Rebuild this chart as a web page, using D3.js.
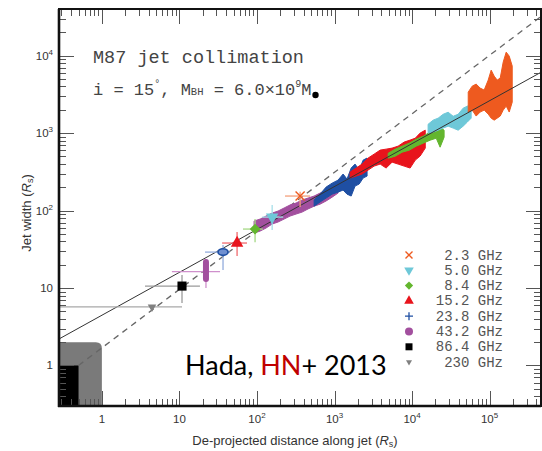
<!DOCTYPE html>
<html><head><meta charset="utf-8">
<script src="https://cdn.jsdelivr.net/npm/d3@7"></script>
<style>html,body{margin:0;padding:0;background:#fff;} svg{display:block;}</style>
</head><body>
<svg id="chart" width="542" height="451"></svg>
<script>
// ---------------- data ----------------
const xMajorTicks = [1, 10, 100, 1e3, 1e4, 1e5];
const yMajorTicks = [1, 10, 100, 1e3, 1e4];
const legendLabels = ["2.3 GHz", "5.0 GHz", "8.4 GHz", "15.2 GHz", "23.8 GHz", "43.2 GHz", "86.4 GHz", "230 GHz"];

// jet width profiles: [distance (Rs), upper width (Rs), lower width (Rs)]
const band43 = [[91.7,73.2,51.2],[110,77.7,54.4],[131,84.9,59.5],[157,92.8,67],[187,98.5,71.1],[224,108,77.7],[267,118,84.9],[319,125,90.1],[382,137,95.6],[456,145,105],[546,154,114],[651,168,121],[779,184,133],[932,201,149],[1110,207,168]];
const band23 = [[546,137,114],[651,163,129],[779,201,145],[932,226,163],[1110,247,173],[1290,296,184],[1450,255,163],[1640,354,154],[1840,398,207],[2080,333,220],[2340,448,263],[2630,476,279]];
const band15 = [[1590,314,263],[1900,354,279],[2270,398,296],[2710,476,333],[3240,535,375],[3880,603,398],[4630,621,354],[5530,640,422],[6610,679,398],[7900,765,375],[9440,812,354],[11000,860,448],[12700,1000,505],[14800,1090,640]];
const band8 = [[4920,550,475],[6050,620,503],[7450,678,567],[9180,741,602],[11300,834,678],[13900,912,741],[17100,1030,810],[20500,1090,860],[23000,1190,658],[25900,1090,885]];
const band5 = [[16100,1300,1000],[18700,1470,1030],[21700,1560,1090],[25200,1750,1160],[29200,1860,1230],[33900,1650,1160],[39300,1750,1090],[45600,2100,1230],[51300,2220,1380],[57800,2360,1560]];
const band2 = [[53000,3380,1870],[59600,4040,1980],[67100,4290,1660],[75600,3810,1870],[85100,3590,1980],[95900,4830,1760],[104800,6500,1560],[114500,5440,1470],[125200,4830,1560],[137000,5130,1660],[149700,8250,1980],[163700,11100,2230],[179000,9860,1870],[195800,7330,2510]];

// core positions with error ranges
const corePoints = [
  {band: "230",  r: 4.43, w: 5.7,  rLo: 0.2, rHi: 10.8, wLo: 5.7,  wHi: 5.7},
  {band: "86.4", r: 10.8, w: 10.6, rLo: 3.6, rHi: 18.4, wLo: 6.4,  wHi: 14.7},
  {band: "43.2", r: 22.0, w: 16.3, rLo: 8.0, rHi: 33.4, wLo: 10.0, wHi: 23.0},
  {band: "23.8", r: 36.5, w: 29.1, rLo: 21.4, rHi: 44.9, wLo: 17.1, wHi: 35.9},
  {band: "15.2", r: 55.4, w: 38.1, rLo: 35.5, rHi: 74.4, wLo: 25.9, wHi: 52.7},
  {band: "8.4",  r: 94.5, w: 57.7, rLo: 66,   rHi: 119,  wLo: 39,   wHi: 78},
  {band: "5.0",  r: 157,  w: 82.4, rLo: 117,  rHi: 218,  wLo: 56,   wHi: 118},
  {band: "2.3",  r: 360,  w: 154,  rLo: 230,  rHi: 485,  wLo: 111,  wHi: 175}
];
// elongated 43 GHz core spread
const core43Spread = [[22.0, 13.1], [22.0, 21.6]];

// power-law fits: parabolic (solid) and conical reference (dashed)
const parabolicFit = [[0.28, 2.2], [4.6e5, 6100]];
const conicalLine = [[0.5, 1.0], [4.6e5, 3.2e4]];

// ---------------- style ----------------
const colors = {
  "2.3": "#ee5a1f", "5.0": "#6ec8d8", "8.4": "#63b62e", "15.2": "#e8141c",
  "23.8": "#1f4fa3", "43.2": "#a24f9e", "86.4": "#000000", "230": "#808080"
};
const barColors = {
  "2.3": "#f3a07c", "5.0": "#a6dfe9", "8.4": "#a4d884", "15.2": "#f06a6e",
  "23.8": "#93acdd", "43.2": "#cf90cc", "86.4": "#9a9a9a", "230": "#a8a8a8"
};

const svg = d3.select("#chart");
const m = {left: 59, right: 541, top: 9, bottom: 406};
const x = d3.scaleLog().domain([0.28, 4.6e5]).range([m.left, m.right]);
const y = d3.scaleLog().domain([0.3, 4e4]).range([m.bottom, m.top]);

svg.append("defs").append("clipPath").attr("id", "plotClip")
  .append("rect").attr("x", m.left).attr("y", m.top)
  .attr("width", m.right - m.left).attr("height", m.bottom - m.top);

const plot = svg.append("g").attr("clip-path", "url(#plotClip)");

// black hole / ergosphere boxes
{
  const x0 = m.left, x1 = x(1), y0 = y(2), y1 = m.bottom, rr = 6;
  plot.append("path")
    .attr("d", `M${x0},${y1}V${y0}H${x1 - rr}Q${x1},${y0} ${x1},${y0 + rr}V${y1}Z`)
    .attr("fill", "#7a7a7a");
  plot.append("rect").attr("x", x0).attr("y", y(1))
    .attr("width", x(0.5) - x0).attr("height", y1 - y(1)).attr("fill", "#000");
}

// minor/major ticks
function decadeValues(scale) {
  const [a, b] = scale.domain();
  const out = [];
  for (let e = Math.floor(Math.log10(a)); e <= Math.ceil(Math.log10(b)); e++) {
    for (let k = 1; k <= 9; k++) {
      const v = k * Math.pow(10, e);
      if (v >= a && v <= b) out.push({v, major: k === 1});
    }
  }
  return out;
}
const tickG = svg.append("g").attr("stroke", "#555").attr("stroke-width", 1);
const majLen = 15, minLen = 7;
decadeValues(x).forEach(t => {
  const px = Math.round(x(t.v)) + 0.5, L = t.major ? majLen : minLen;
  tickG.append("line").attr("x1", px).attr("x2", px).attr("y1", m.bottom).attr("y2", m.bottom - L);
  tickG.append("line").attr("x1", px).attr("x2", px).attr("y1", m.top).attr("y2", m.top + L);
});
decadeValues(y).forEach(t => {
  const py = Math.round(y(t.v)) + 0.5, L = t.major ? majLen : minLen;
  tickG.append("line").attr("y1", py).attr("y2", py).attr("x1", m.left).attr("x2", m.left + L);
  tickG.append("line").attr("y1", py).attr("y2", py).attr("x1", m.right).attr("x2", m.right - L);
});

// reference lines
const line = d3.line().x(d => x(d[0])).y(d => y(d[1]));
plot.append("path").datum(conicalLine).attr("d", line)
  .attr("fill", "none").attr("stroke", "#666").attr("stroke-width", 1.3).attr("stroke-dasharray", "6,5");

// width profile bands
const area = d3.area().x(d => x(d[0])).y0(d => y(d[2])).y1(d => y(d[1]));
[["43.2", band43], ["23.8", band23], ["15.2", band15], ["8.4", band8], ["5.0", band5], ["2.3", band2]]
  .forEach(([k, data]) => {
    plot.append("path").datum(data).attr("d", area)
      .attr("fill", colors[k]).attr("stroke", colors[k]).attr("stroke-width", 1).attr("stroke-linejoin", "round");
  });

plot.append("path").datum(parabolicFit).attr("d", line)
  .attr("fill", "none").attr("stroke", "#333").attr("stroke-width", 1);

// core error bars
corePoints.forEach(p => {
  const c = barColors[p.band];
  plot.append("line").attr("x1", x(p.rLo)).attr("x2", x(p.rHi)).attr("y1", y(p.w)).attr("y2", y(p.w))
    .attr("stroke", c).attr("stroke-width", 1.3);
  if (p.wLo !== p.wHi)
    plot.append("line").attr("x1", x(p.r)).attr("x2", x(p.r)).attr("y1", y(p.wLo)).attr("y2", y(p.wHi))
      .attr("stroke", c).attr("stroke-width", 1.3);
});

// marker drawing shared by plot and legend
function drawMarker(g, band, cx, cy, s) {
  const c = colors[band];
  const sym = (type, size, rot) => g.append("path")
    .attr("d", d3.symbol().type(type).size(size))
    .attr("transform", `translate(${cx},${cy}) rotate(${rot || 0})`).attr("fill", c);
  switch (band) {
    case "2.3":
      g.append("path").attr("d", `M${cx - 3.5*s},${cy - 3.5*s}L${cx + 3.5*s},${cy + 3.5*s}M${cx - 3.5*s},${cy + 3.5*s}L${cx + 3.5*s},${cy - 3.5*s}`)
        .attr("stroke", c).attr("stroke-width", 1.4);
      break;
    case "5.0": sym(d3.symbolTriangle, 40 * s * s, 180); break;
    case "8.4": sym(d3.symbolSquare, 34 * s * s, 45); break;
    case "15.2": sym(d3.symbolTriangle, 40 * s * s, 0); break;
    case "23.8":
      g.append("path").attr("d", `M${cx - 4*s},${cy}H${cx + 4*s}M${cx},${cy - 4*s}V${cy + 4*s}`)
        .attr("stroke", c).attr("stroke-width", 1.3);
      break;
    case "43.2": g.append("circle").attr("cx", cx).attr("cy", cy).attr("r", 4 * s).attr("fill", c); break;
    case "86.4": sym(d3.symbolSquare, 49 * s * s, 0); break;
    case "230": sym(d3.symbolTriangle, 22 * s * s, 180); break;
  }
}

// core markers
plot.append("path").datum(core43Spread).attr("d", line)
  .attr("stroke", colors["43.2"]).attr("stroke-width", 6).attr("stroke-linecap", "round");
corePoints.forEach(p => {
  if (p.band === "43.2") return;
  if (p.band === "23.8") {
    plot.append("ellipse").attr("cx", x(p.r)).attr("cy", y(p.w)).attr("rx", 5).attr("ry", 3.3)
      .attr("fill", "#6f8fd0").attr("stroke", colors["23.8"]).attr("stroke-width", 1.6);
    return;
  }
  drawMarker(plot, p.band, x(p.r), y(p.w), p.band === "230" ? 1.2 : 1.3);
});

// frame
svg.append("rect").attr("x", m.left).attr("y", m.top)
  .attr("width", m.right - m.left).attr("height", m.bottom - m.top)
  .attr("fill", "none").attr("stroke", "#111").attr("stroke-width", 2);
svg.append("line").attr("x1", m.left).attr("x2", m.left).attr("y1", m.top).attr("y2", m.bottom + 1)
  .attr("stroke", "#111").attr("stroke-width", 2.6);
svg.append("line").attr("x1", m.left - 1).attr("x2", m.right).attr("y1", m.bottom).attr("y2", m.bottom)
  .attr("stroke", "#111").attr("stroke-width", 2.6);

// tick labels
function powLabel(t, v) {
  const e = Math.round(Math.log10(v));
  if (e === 0) { t.text("1"); return; }
  t.append("tspan").text("10");
  if (e > 1) t.append("tspan").attr("dy", -5).attr("font-size", 8).text(e);
}
const labelFont = "'Liberation Sans', Arial, sans-serif";
xMajorTicks.forEach(v => {
  const t = svg.append("text").attr("x", x(v)).attr("y", 423).attr("text-anchor", "middle")
    .attr("font-family", labelFont).attr("font-size", 11.5).attr("fill", "#333");
  powLabel(t, v);
});
yMajorTicks.forEach(v => {
  const t = svg.append("text").attr("x", 53).attr("y", y(v) + 4).attr("text-anchor", "end")
    .attr("font-family", labelFont).attr("font-size", 11.5).attr("fill", "#333");
  powLabel(t, v);
});

// axis titles
{
  const t = svg.append("text").attr("x", 295).attr("y", 445).attr("text-anchor", "middle")
    .attr("font-family", labelFont).attr("font-size", 13).attr("fill", "#333");
  t.append("tspan").text("De-projected distance along jet (");
  t.append("tspan").attr("font-style", "italic").text("R");
  t.append("tspan").attr("font-size", 9).attr("dy", 2).text("s");
  t.append("tspan").attr("dy", -2).text(")");
  const u = svg.append("text").attr("transform", "translate(31,213) rotate(-90)").attr("text-anchor", "middle")
    .attr("font-family", labelFont).attr("font-size", 13).attr("fill", "#333");
  u.append("tspan").text("Jet width (");
  u.append("tspan").attr("font-style", "italic").text("R");
  u.append("tspan").attr("font-size", 9).attr("dy", 2).text("s");
  u.append("tspan").attr("dy", -2).text(")");
}

// annotation
const monoFont = "'Liberation Mono', 'DejaVu Sans Mono', monospace";
svg.append("text").attr("x", 93).attr("y", 63).attr("font-family", monoFont)
  .attr("font-size", 18.5).attr("fill", "#444").text("M87 jet collimation");
{
  const t = svg.append("text").attr("x", 93).attr("y", 95).attr("font-family", monoFont)
    .attr("font-size", 17).attr("fill", "#444");
  t.append("tspan").text("i = 15");
  t.append("tspan").attr("font-size", 10).attr("dy", -8).text("°");
  t.append("tspan").attr("dy", 8).text(", M");
  t.append("tspan").attr("font-size", 10.5).text("BH");
  t.append("tspan").text(" = 6.0×10");
  t.append("tspan").attr("font-size", 10).attr("dy", -8).text("9");
  t.append("tspan").attr("dy", 8).text("M");
  const bb = t.node().getBBox();
  svg.append("circle").attr("cx", bb.x + bb.width + 4).attr("cy", 95).attr("r", 3.2).attr("fill", "#000");
}

// legend
legendLabels.forEach((lab, i) => {
  const cy = 255 + i * 15.3;
  const band = lab.replace(" GHz", "");
  drawMarker(svg, band, 409, cy, band === "230" ? 0.85 : 1);
  svg.append("text").attr("x", 503).attr("y", cy + 4.5).attr("text-anchor", "end")
    .attr("font-family", monoFont).attr("font-size", 14).attr("fill", "#555").text(lab);
});

// citation
{
  const t = svg.append("text").attr("x", 185).attr("y", 375)
    .attr("font-family", "Lato, 'Open Sans', sans-serif").attr("font-size", 27).attr("fill", "#000");
  t.append("tspan").text("Hada, ");
  t.append("tspan").attr("fill", "#c00000").text("HN");
  t.append("tspan").text("+ 2013");
}
</script>
</body></html>
